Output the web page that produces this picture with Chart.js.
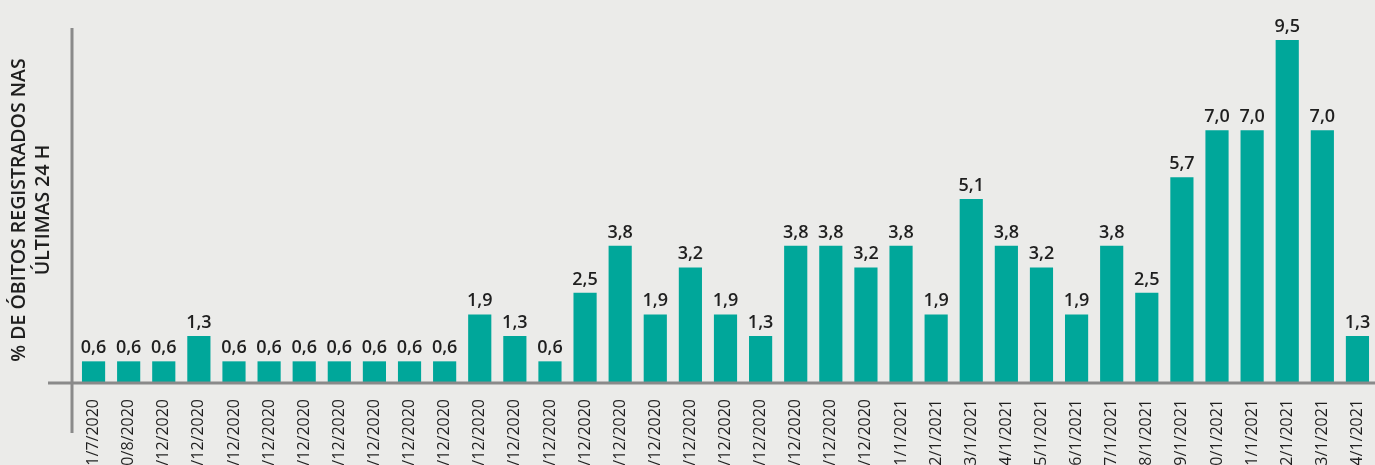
<!DOCTYPE html>
<html>
<head>
<meta charset="utf-8">
<script src="https://cdn.jsdelivr.net/npm/chart.js@4/dist/chart.umd.min.js"></script>
<style>
  html, body { margin: 0; padding: 0; overflow: hidden; background: #ebebe9; }
  #wrap { width: 1375px; height: 465px; overflow: hidden; }
</style>
</head>
<body>
<div id="wrap"><canvas id="chart" width="1375" height="500"></canvas></div>
<script>
const dates = [
  '31/7/2020', '30/8/2020',
  '11/12/2020', '12/12/2020', '13/12/2020', '14/12/2020', '15/12/2020', '16/12/2020', '17/12/2020',
  '18/12/2020', '19/12/2020', '20/12/2020', '21/12/2020', '22/12/2020', '23/12/2020', '24/12/2020',
  '25/12/2020', '26/12/2020', '27/12/2020', '28/12/2020', '29/12/2020', '30/12/2020', '31/12/2020',
  '1/1/2021', '2/1/2021', '3/1/2021', '4/1/2021', '5/1/2021', '6/1/2021', '7/1/2021',
  '8/1/2021', '9/1/2021', '10/1/2021', '11/1/2021', '12/1/2021', '13/1/2021', '14/1/2021'
];
const pctDeaths = [
  0.6, 0.6, 0.6, 1.3, 0.6, 0.6, 0.6, 0.6, 0.6, 0.6, 0.6, 1.9, 1.3, 0.6, 2.5, 3.8,
  1.9, 3.2, 1.9, 1.3, 3.8, 3.8, 3.2, 3.8, 1.9, 5.1, 3.8, 3.2, 1.9, 3.8, 2.5, 5.7,
  7.0, 7.0, 9.5, 7.0, 1.3
];
const yTitle = ['% DE ÓBITOS REGISTRADOS NAS', 'ÚLTIMAS 24 H'];

const BAR = '#00a79a';
const INK = '#1f1f1f';
const AXIS = '#8a8a8a';

// axis cross + rotated y title + value labels
const decor = {
  id: 'decor',
  afterDatasetsDraw(chart) {
    const { ctx, scales: { x, y } } = chart;
    const y0 = y.getPixelForValue(0);
    ctx.save();
    ctx.strokeStyle = AXIS;
    ctx.lineWidth = 3;
    ctx.beginPath();
    ctx.moveTo(48, y0);
    ctx.lineTo(chart.width, y0);
    ctx.moveTo(72, 28);
    ctx.lineTo(72, 433);
    ctx.stroke();

    ctx.fillStyle = INK;
    ctx.font = '600 18px "Open Sans"';
    ctx.textAlign = 'center';
    ctx.textBaseline = 'alphabetic';
    const meta = chart.getDatasetMeta(0);
    meta.data.forEach((bar, i) => {
      ctx.fillText(pctDeaths[i].toFixed(1).replace('.', ','), bar.x, bar.y - 8);
    });

    ctx.translate(0, 210);
    ctx.rotate(-Math.PI / 2);
    ctx.font = '600 19.5px "Open Sans"';
    ctx.fillText(yTitle[0], 0, 25);
    ctx.fillText(yTitle[1], 0, 49);
    ctx.restore();
  }
};

new Chart(document.getElementById('chart'), {
  type: 'bar',
  data: {
    labels: dates,
    datasets: [{
      data: pctDeaths,
      backgroundColor: BAR,
      categoryPercentage: 1,
      barPercentage: 0.66,
    }]
  },
  options: {
    responsive: false,
    animation: false,
    layout: { padding: { left: 76, top: 22, right: 0, bottom: 0 } },
    plugins: { legend: { display: false }, tooltip: { enabled: false } },
    scales: {
      y: { display: false, min: 0, max: 10 },
      x: {
        grid: { display: false },
        border: { display: false },
        ticks: {
          color: INK,
          font: { family: 'Open Sans', size: 16 },
          minRotation: 90, maxRotation: 90,
          padding: 8,
          autoSkip: false,
        },
        afterFit(scale) {
          scale.height = 117;
          scale.paddingLeft = 0;
          scale.paddingRight = 0;
        }
      }
    }
  },
  plugins: [decor]
});
</script>
</body>
</html>
